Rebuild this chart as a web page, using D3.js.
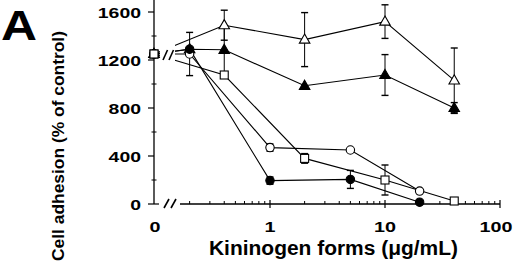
<!DOCTYPE html>
<html><head><meta charset="utf-8">
<script src="https://cdn.jsdelivr.net/npm/d3@7/dist/d3.min.js"></script>
<style>body{margin:0;background:#fff}svg{display:block}text{font-family:"Liberation Sans",Arial,Helvetica,sans-serif;font-weight:bold;fill:#000}</style>
</head><body><svg id="c" width="520" height="262"></svg>
<script>
// ---- data ----
const yTicks = [0, 400, 800, 1200, 1600];
const yMinorTicks = [200, 600, 1000, 1400];
const xTickValues = [1, 10, 100];
const xTickLabels = ["1", "10", "100"];
const xZeroLabel = "0";
const xMinorTicks = [0.2,0.3,0.4,0.5,0.6,0.7,0.8,0.9,2,3,4,5,6,7,8,9,20,30,40,50,60,70,80,90];
const xTitle = "Kininogen forms (\u03bcg/mL)";
const yTitle = "Cell adhesion (% of control)";
const panelLabel = "A";

// x = 0 is the control value (plotted on the y axis, before the break)
const openTriX = [0, 0.4, 2, 10, 40];
const openTriY = [1250, 1490, 1370, 1520, 1030];
const openTriErr = [0, 125, 225, 140, 270];

const filledTriX = [0, 0.2, 0.4, 2, 10, 40];
const filledTriY = [1250, 1290, 1285, 985, 1075, 800];
const filledTriErr = [0, 0, 200, 0, 170, 45];

const openCircX = [0, 0.2, 1, 5, 20];
const openCircY = [1250, 1250, 470, 450, 108];
const openCircErr = [0, 180, 30, 0, 0];

const filledCircX = [0, 0.2, 1, 5, 20];
const filledCircY = [1250, 1290, 195, 205, 15];
const filledCircErr = [0, 0, 30, 75, 0];

const squareX = [0, 0.4, 2, 10, 40];
const squareY = [1250, 1075, 380, 200, 25];
const squareErr = [0, 0, 40, 125, 0];

// ---- drawing ----
const svg = d3.select("#c");
const axisX = 154, axisY = 204;
const y = d3.scaleLinear().domain([0, 1600]).range([204, 12]);
const xl = d3.scaleLog().domain([1, 100]).range([270, 500]);
const xp = v => v === 0 ? axisX : xl(v);

const series = [
  {x: openTriX, y: openTriY, e: openTriErr, shape: "tri", fill: "#fff"},
  {x: filledTriX, y: filledTriY, e: filledTriErr, shape: "tri", fill: "#000"},
  {x: squareX, y: squareY, e: squareErr, shape: "sq", fill: "#fff"},
  {x: openCircX, y: openCircY, e: openCircErr, shape: "circ", fill: "#fff"},
  {x: filledCircX, y: filledCircY, e: filledCircErr, shape: "circ", fill: "#000"}
].map(s => ({...s, pts: s.x.map((xv, i) => ({x: xv, y: s.y[i], e: s.e[i]}))}));

const line = d3.line().x(d => xp(d.x)).y(d => y(d.y));
const g = svg.append("g");

g.selectAll("path.ser").data(series).join("path")
  .attr("fill", "none").attr("stroke", "#000").attr("stroke-width", 1.1)
  .attr("d", s => line(s.pts));

// break mask
svg.append("rect").attr("x", 160).attr("y", 30).attr("width", 15).attr("height", 45).attr("fill", "#fff");

// axes
const ax = svg.append("g").attr("stroke", "#000").attr("fill", "none");
ax.append("line").attr("x1", axisX).attr("x2", axisX).attr("y1", 0).attr("y2", axisY).attr("stroke-width", 1.3);
ax.selectAll("line.ymaj").data(yTicks).join("line")
  .attr("x1", axisX - 6).attr("x2", d => d === 0 ? axisX + 5 : axisX)
  .attr("y1", d => y(d)).attr("y2", d => y(d)).attr("stroke-width", 1.2);
ax.selectAll("line.ymin").data(yMinorTicks).join("line")
  .attr("x1", axisX - 2.5).attr("x2", axisX + 2.5)
  .attr("y1", d => y(d)).attr("y2", d => y(d)).attr("stroke-width", 1);

const xAxisStart = 180;
ax.append("line").attr("x1", xAxisStart).attr("x2", xl(100)).attr("y1", axisY).attr("y2", axisY).attr("stroke-width", 1.3);
ax.selectAll("line.xmin").data(xMinorTicks).join("line")
  .attr("x1", d => xl(d)).attr("x2", d => xl(d)).attr("y1", axisY - 3).attr("y2", axisY).attr("stroke-width", 1);
ax.selectAll("line.xmaj").data(xTickValues).join("line")
  .attr("x1", d => xl(d)).attr("x2", d => xl(d)).attr("y1", axisY - 4).attr("y2", axisY + 4).attr("stroke-width", 1.2);

// break slashes
const slashes = [[163, 60, 167.5, 50], [169, 60, 173.5, 50], [164, 208, 169, 199], [171, 208, 176, 199]];
ax.selectAll("line.sl").data(slashes).join("line")
  .attr("x1", d => d[0]).attr("y1", d => d[1]).attr("x2", d => d[2]).attr("y2", d => d[3]).attr("stroke-width", 1.6);

// error bars
const eb = svg.append("g").attr("stroke", "#000").attr("stroke-width", 1);
series.forEach(s => {
  s.pts.filter(p => p.e > 0).forEach(p => {
    const cx = xp(p.x);
    eb.append("line").attr("x1", cx).attr("x2", cx).attr("y1", y(p.y + p.e)).attr("y2", y(p.y - p.e));
    [p.y + p.e, p.y - p.e].forEach(v => eb.append("line").attr("x1", cx - 3.5).attr("x2", cx + 3.5).attr("y1", y(v)).attr("y2", y(v)).attr("stroke-width", 1.4));
  });
});

// markers
const mk = svg.append("g").attr("stroke", "#000").attr("stroke-width", 1.1);
const triPath = d3.symbol().type(d3.symbolTriangle).size(48)();
series.forEach(s => {
  s.pts.forEach(p => {
    const cx = xp(p.x), cy = y(p.y);
    if (s.shape === "tri") mk.append("path").attr("d", triPath).attr("transform", `translate(${cx},${cy + 0.5})`).attr("fill", s.fill);
    else if (s.shape === "sq") mk.append("rect").attr("x", cx - 4).attr("y", cy - 4).attr("width", 8).attr("height", 8).attr("fill", s.fill);
    else mk.append("circle").attr("cx", cx).attr("cy", cy).attr("r", 4.2).attr("fill", s.fill);
  });
});
// control marker drawn on top (square)
mk.append("rect").attr("x", axisX - 4).attr("y", y(squareY[0]) - 4).attr("width", 8).attr("height", 8).attr("fill", "#fff");

// text
function stretch(sel, w) { sel.each(function(){ this.setAttribute("textLength", w); this.setAttribute("lengthAdjust", "spacingAndGlyphs"); }); }
svg.selectAll("text.yl").data(yTicks).join("text")
  .attr("x", 141).attr("y", d => y(d) + 5.5).attr("text-anchor", "end").attr("font-size", 15.5)
  .text(d => d).each(function(d){ const s = String(d); stretch(d3.select(this), s.length * 10.8); });

const xLab = [{v: null, t: xZeroLabel, cx: 155}].concat(xTickValues.map((v, i) => ({v, t: xTickLabels[i], cx: v === 100 ? xl(v) - 4 : xl(v)})));
svg.selectAll("text.xl").data(xLab).join("text")
  .attr("x", d => d.cx).attr("y", 231.5).attr("text-anchor", "middle").attr("font-size", 15.5)
  .text(d => d.t).each(function(d){ stretch(d3.select(this), d.t.length * 11); });

svg.append("text").attr("x", 333.5).attr("y", 255).attr("text-anchor", "middle").attr("font-size", 19.5)
  .text(xTitle).call(stretch, 249);

svg.append("text").attr("transform", "translate(64,146) rotate(-90)").attr("text-anchor", "middle").attr("font-size", 17)
  .text(yTitle).call(stretch, 230);

svg.append("text").attr("x", 1).attr("y", 39.5).attr("font-size", 43).text(panelLabel).call(stretch, 36);
</script></body></html>
